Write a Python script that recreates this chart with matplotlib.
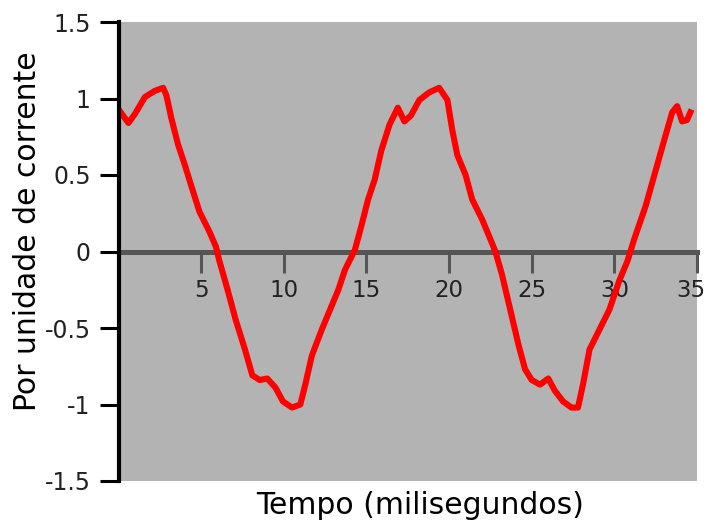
import numpy as np
import matplotlib
matplotlib.use('Agg')
from matplotlib import pyplot as plt
from matplotlib.transforms import ScaledTranslation

# time in ms and per-unit current
tempo = [0.0, 0.6, 1.0, 1.6, 2.2, 2.7, 2.9, 3.2, 3.6, 4.0, 4.4, 4.9, 5.5, 5.9,
         6.1, 6.6, 7.1, 7.65, 8.1, 8.55, 9.0, 9.5, 9.95, 10.5, 11.0, 11.3, 11.7,
         12.3, 12.8, 13.3, 13.7, 14.3, 14.7, 15.1, 15.5, 15.9, 16.4, 16.9, 17.3,
         17.7, 18.2, 18.8, 19.4, 19.9, 20.2, 20.5, 21.0, 21.4, 22.0, 22.5, 22.8,
         23.2, 23.7, 24.2, 24.6, 25.0, 25.5, 26.0, 26.4, 26.9, 27.4, 27.8, 28.1,
         28.5, 29.1, 29.7, 30.3, 30.8, 31.2, 31.9, 32.5, 33.1, 33.5, 33.8, 34.1,
         34.4, 34.6]
corrente = [0.93, 0.84, 0.90, 1.01, 1.05, 1.07, 1.02, 0.87, 0.70, 0.57, 0.43,
            0.26, 0.13, 0.03, -0.06, -0.25, -0.45, -0.64, -0.81, -0.84, -0.83,
            -0.89, -0.98, -1.02, -1.00, -0.87, -0.68, -0.51, -0.38, -0.25, -0.12,
            0.01, 0.17, 0.34, 0.47, 0.66, 0.83, 0.94, 0.85, 0.89, 0.99, 1.04,
            1.07, 0.99, 0.79, 0.63, 0.50, 0.34, 0.21, 0.08, 0.00, -0.15, -0.38,
            -0.61, -0.77, -0.84, -0.87, -0.83, -0.91, -0.98, -1.02, -1.02, -0.87,
            -0.64, -0.51, -0.38, -0.19, -0.06, 0.08, 0.30, 0.53, 0.76, 0.91, 0.95,
            0.85, 0.86, 0.91]

xticks = [5, 10, 15, 20, 25, 30, 35]
yticks = [-1.5, -1, -0.5, 0, 0.5, 1, 1.5]
ylabels = ['-1.5', '-1', '-0.5', '0', '0.5', '1', '1.5']

fig = plt.figure(figsize=(7.08, 5.23), dpi=100)
ax = fig.add_axes([118.5 / 708, 42 / 523, 578.5 / 708, 459 / 523])
ax.set_facecolor('#b3b3b3')

ax.plot(tempo, corrente, color='red', lw=4.4, solid_joinstyle='round')

ax.set_xlim(0, 35)
ax.set_ylim(-1.5, 1.5)

# zero axis with its ticks
ax.spines['bottom'].set_position(('data', 0))
ax.spines['bottom'].set_color('#555555')
ax.spines['bottom'].set_linewidth(3.6)
ax.spines['bottom'].set_zorder(1)
ax.spines['top'].set_visible(False)
ax.spines['right'].set_visible(False)
ax.spines['left'].set_linewidth(3)
ax.spines['left'].set_color('black')

ax.set_xticks(xticks)
ax.set_xticklabels([str(t) for t in xticks])
ax.tick_params(axis='x', direction='out', length=15, width=2.2, color='#555555',
               pad=5, labelsize=16.5, labelcolor='#222222')
ax.set_yticks(yticks)
ax.set_yticklabels(ylabels)
ax.tick_params(axis='y', direction='out', length=14, width=2.2, color='black',
               pad=6, labelsize=17, labelcolor='#222222')

# last label sits at the right edge, nudge it in a little
last = ax.get_xticklabels()[-1]
last.set_transform(last.get_transform() + ScaledTranslation(-6 / 100, 0, fig.dpi_scale_trans))

ax.set_ylabel('Por unidade de corrente', fontsize=21.5, va='center')
ax.yaxis.set_label_coords(-0.158, 0.545)
fig.text(0.593, 0.033, 'Tempo (milisegundos)', fontsize=21.5, ha='center', va='center')

plt.savefig('out.png', dpi=100)
